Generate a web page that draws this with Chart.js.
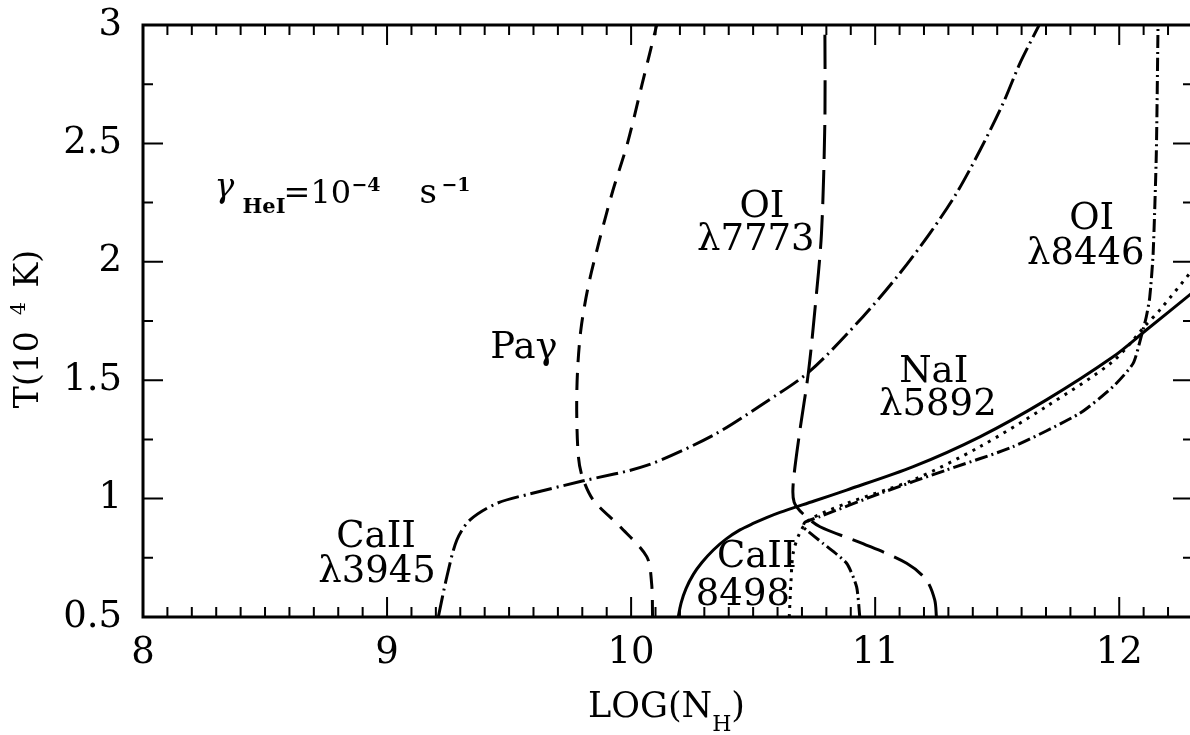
<!DOCTYPE html>
<html lang="en">
<head>
  <meta charset="UTF-8" />
  <title>T vs LOG(N_H)</title>
  <script src="https://cdn.jsdelivr.net/npm/chart.js@4"></script>
  <style>
    body { margin: 0; background: #fff; }
    #wrap { width: 1190px; height: 735px; }
  </style>
</head>
<body>
  <div id="wrap"><canvas id="chart" width="1190" height="735"></canvas></div>

  <script>
    // curves: x = LOG(N_H), y = T in 10^4 K
    const caII3945X = [9.21, 9.245, 9.286, 9.34, 9.45, 9.586, 9.80, 10.064, 10.337, 10.54, 10.73, 10.95, 11.10, 11.224, 11.333, 11.429, 11.524, 11.593, 11.672];
    const caII3945Y = [0.5, 0.67, 0.825, 0.91, 0.98, 1.02, 1.074, 1.14, 1.268, 1.40, 1.536, 1.768, 1.95, 2.12, 2.289, 2.47, 2.669, 2.838, 3.0];

    const paGammaX = [10.088, 10.084, 10.064, 9.955, 9.845, 9.80, 9.784, 9.777, 9.781, 9.795, 9.825, 9.87, 9.925, 9.985, 10.045, 10.105];
    const paGammaY = [0.5, 0.642, 0.755, 0.881, 0.994, 1.092, 1.177, 1.374, 1.55, 1.72, 1.9, 2.09, 2.3, 2.5, 2.75, 3.0];

    const oI7773X = [11.251, 11.244, 11.21, 11.129, 10.95, 10.774, 10.705, 10.668, 10.664, 10.69, 10.726, 10.753, 10.78, 10.794, 10.794];
    const oI7773Y = [0.5, 0.572, 0.656, 0.727, 0.81, 0.881, 0.935, 0.985, 1.06, 1.276, 1.529, 1.796, 2.12, 2.599, 3.0];

    const caII8498X = [10.193, 10.205, 10.225, 10.255, 10.29, 10.337, 10.39, 10.446, 10.50, 10.555, 10.61, 10.75, 10.883, 11.156, 11.429, 11.70, 11.975, 12.111, 12.3];
    const caII8498Y = [0.5, 0.56, 0.62, 0.68, 0.73, 0.783, 0.83, 0.868, 0.895, 0.92, 0.942, 0.99, 1.036, 1.135, 1.261, 1.416, 1.599, 1.712, 1.87];

    const naI5892X = [10.648, 10.655, 10.664, 10.69, 10.73, 10.883, 11.156, 11.429, 11.70, 11.975, 12.111, 12.166, 12.3];
    const naI5892Y = [0.5, 0.65, 0.769, 0.853, 0.91, 0.98, 1.079, 1.219, 1.388, 1.58, 1.735, 1.796, 1.965];

    const oI8446X = [10.937, 10.924, 10.883, 10.787, 10.719, 10.705, 10.712, 10.774, 11.02, 11.29, 11.565, 11.838, 11.975, 12.057, 12.09, 12.111, 12.125, 12.139, 12.152, 12.159];
    const oI8446Y = [0.5, 0.627, 0.727, 0.81, 0.867, 0.881, 0.90, 0.924, 1.022, 1.12, 1.219, 1.36, 1.473, 1.571, 1.684, 1.768, 1.85, 2.036, 2.458, 3.0];

    const xTicks = [8, 9, 10, 11, 12];
    const yTicks = [0.5, 1, 1.5, 2, 2.5, 3];

    const SERIF = "'DejaVu Serif', serif";

    // line names: text, centre x and baseline y in data units
    const lineLabels = [
      { text: 'CaII', x: 8.955, y: 0.796 },
      { text: 'λ3945', x: 8.959, y: 0.648 },
      { text: 'Paγ', x: 9.561, y: 1.594 },
      { text: 'OI', x: 10.536, y: 2.189 },
      { text: 'λ7773', x: 10.511, y: 2.05 },
      { text: 'CaII', x: 10.515, y: 0.711 },
      { text: '8498', x: 10.458, y: 0.551 },
      { text: 'NaI', x: 11.24, y: 1.492 },
      { text: 'λ5892', x: 11.257, y: 1.353 },
      { text: 'OI', x: 11.887, y: 2.139 },
      { text: 'λ8446', x: 11.863, y: 1.992 }
    ];

    const pts = (xs, ys) => xs.map((x, i) => ({ x, y: ys[i] }));

    function curve(xs, ys, dash, tension) {
      return {
        data: pts(xs, ys),
        showLine: true,
        borderColor: '#000',
        borderWidth: 3,
        borderDash: dash,
        pointRadius: 0,
        tension: tension,
        fill: false
      };
    }

    // frame with inward ticks on all sides
    const frame = {
      id: 'frame',
      afterDatasetsDraw(chart) {
        const { ctx, chartArea: a, scales: { x, y } } = chart;
        ctx.save();
        ctx.strokeStyle = '#000';
        ctx.lineWidth = 3;
        ctx.beginPath();
        ctx.moveTo(a.right + 5, a.top);
        ctx.lineTo(a.left, a.top);
        ctx.lineTo(a.left, a.bottom);
        ctx.lineTo(a.right + 5, a.bottom);
        ctx.stroke();

        ctx.lineWidth = 2;
        ctx.beginPath();
        for (let i = 81; i <= 123; i++) {
          const px = x.getPixelForValue(i / 10);
          if (px > a.right) break;
          const len = i % 10 === 0 ? 20 : 10;
          ctx.moveTo(px, a.bottom); ctx.lineTo(px, a.bottom - len);
          ctx.moveTo(px, a.top); ctx.lineTo(px, a.top + len);
        }
        for (let i = 3; i < 12; i++) {
          const py = y.getPixelForValue(i / 4);
          const len = i % 2 === 0 ? 20 : 10;
          ctx.moveTo(a.left, py); ctx.lineTo(a.left + len, py);
          ctx.moveTo(a.right + 3, py); ctx.lineTo(a.right + 3 - len, py);
        }
        ctx.stroke();
        ctx.restore();
      }
    };

    // draws a run of text pieces, each with its own font and vertical shift
    function drawParts(ctx, parts, x, y, spacing) {
      let w = 0;
      parts.forEach(p => { ctx.font = p.font; w += ctx.measureText(p.t).width + spacing * p.t.length; });
      let cx = x - w / 2;
      parts.forEach(p => {
        ctx.font = p.font;
        ctx.fillText(p.t, cx, y + (p.dy || 0));
        cx += ctx.measureText(p.t).width + spacing * p.t.length;
      });
    }

    const texts = {
      id: 'texts',
      afterDraw(chart) {
        const { ctx, chartArea: a, scales: { x, y } } = chart;
        ctx.save();
        ctx.fillStyle = '#000';
        ctx.textBaseline = 'alphabetic';

        ctx.textAlign = 'center';
        ctx.font = '37px ' + SERIF;
        lineLabels.forEach(l => ctx.fillText(l.text, x.getPixelForValue(l.x), y.getPixelForValue(l.y)));

        // gamma_HeI = 10^-4 s^-1
        const gx = x.getPixelForValue(8.305), gy = y.getPixelForValue(2.248);
        ctx.textAlign = 'left';
        const g = [
          { t: 'γ', font: 'italic 33px ' + SERIF, dx: -3, dy: -6 },
          { t: 'HeI', font: 'bold 21px ' + SERIF, dx: 25, dy: 10 },
          { t: '=', font: '32px ' + SERIF, dx: 66, dy: 0 },
          { t: '10', font: '32px ' + SERIF, dx: 93, dy: 0 },
          { t: '−4', font: 'bold 19px ' + SERIF, dx: 134, dy: -12 },
          { t: 's', font: '34px ' + SERIF, dx: 202, dy: 0 },
          { t: '−1', font: 'bold 19px ' + SERIF, dx: 224, dy: -12 }
        ];
        g.forEach(p => { ctx.font = p.font; ctx.fillText(p.t, gx + p.dx, gy + p.dy); });

        // x title
        drawParts(ctx, [
          { t: 'LOG(N', font: '35px ' + SERIF },
          { t: 'H', font: '22px ' + SERIF, dy: 14 },
          { t: ')', font: '35px ' + SERIF }
        ], (a.left + a.right) / 2, 717, 0);

        // y title
        ctx.translate(38, 323);
        ctx.rotate(-Math.PI / 2);
        drawParts(ctx, [
          { t: 'T(10', font: '33px ' + SERIF },
          { t: '4', font: '21px ' + SERIF, dy: -13 },
          { t: ' K)', font: '33px ' + SERIF }
        ], 0, 0, 4);
        ctx.restore();
      }
    };

    new Chart(document.getElementById('chart'), {
      type: 'scatter',
      data: {
        datasets: [
          curve(caII3945X, caII3945Y, [22, 5, 2, 5], 0.3),
          curve(paGammaX, paGammaY, [17, 11], 0.3),
          curve(oI7773X, oI7773Y, [34, 11], 0.3),
          curve(caII8498X, caII8498Y, [], 0.3),
          curve(naI5892X, naI5892Y, [3, 6], 0.3),
          curve(oI8446X, oI8446Y, [13, 4, 2, 4], 0.2)
        ]
      },
      options: {
        responsive: false,
        animation: false,
        events: [],
        layout: { padding: { left: 0, top: 25, right: 0, bottom: 0 } },
        plugins: { legend: { display: false }, tooltip: { enabled: false } },
        scales: {
          x: {
            type: 'linear', min: 8, max: 12.29,
            grid: { display: false, drawTicks: false },
            border: { display: false },
            ticks: { color: '#000', font: { family: SERIF, size: 37 }, padding: 14, maxRotation: 0, autoSkip: false,
                     callback: v => String(v) },
            afterBuildTicks: s => { s.ticks = xTicks.map(v => ({ value: v })); },
            afterFit: s => { s.height = 118; s.paddingLeft = 0; s.paddingRight = 0; }
          },
          y: {
            type: 'linear', min: 0.5, max: 3,
            grid: { display: false, drawTicks: false },
            border: { display: false },
            ticks: { color: '#000', font: { family: SERIF, size: 37 }, padding: 21, autoSkip: false,
                     callback: v => String(v) },
            afterBuildTicks: s => { s.ticks = yTicks.map(v => ({ value: v })); },
            afterFit: s => { s.width = 143; s.paddingTop = 0; s.paddingBottom = 0; }
          }
        }
      },
      plugins: [frame, texts]
    });
  </script>
</body>
</html>
